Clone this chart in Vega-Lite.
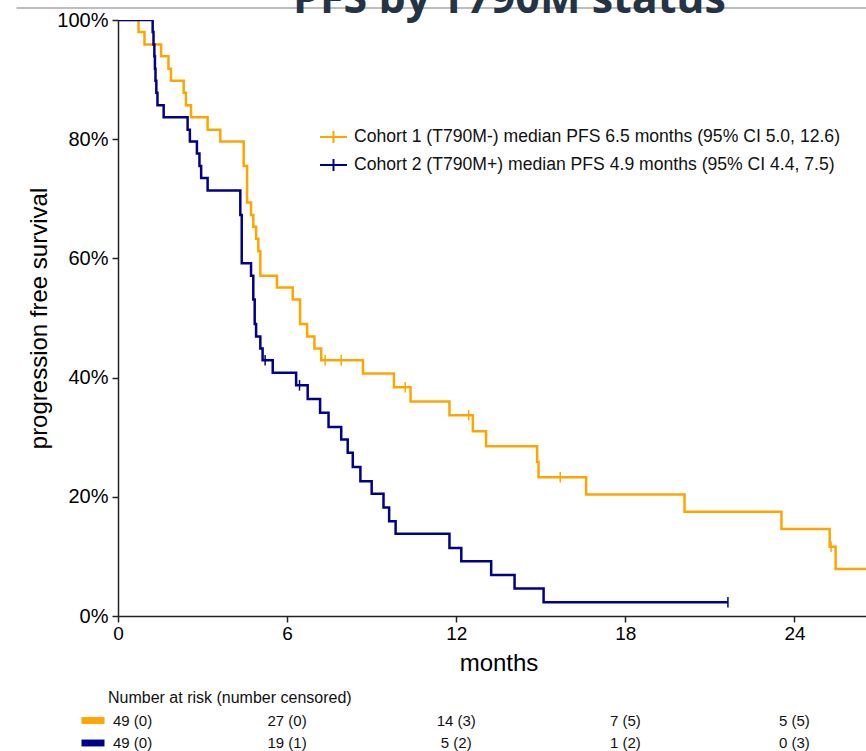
{
  "$schema": "https://vega.github.io/schema/vega-lite/v6.json",
  "background": "white",
  "padding": {"left": 15, "top": -21, "right": 0, "bottom": 0},
  "bounds": "flush",
  "spacing": 82,
  "title": {
    "text": "PFS by T790M status",
    "anchor": "start",
    "frame": "group",
    "dx": 175,
    "font": "Open Sans",
    "fontSize": 43,
    "fontWeight": "bold",
    "color": "#243444",
    "baseline": "alphabetic",
    "offset": -49
  },
  "config": {
    "view": {"stroke": null},
    "font": "Liberation Sans",
    "axis": {
      "grid": false,
      "domainColor": "#222",
      "domainWidth": 1.5,
      "tickColor": "#222",
      "tickWidth": 1.5,
      "tickSize": 6,
      "labelColor": "#000",
      "labelFont": "Liberation Sans",
      "labelFontSize": 19,
      "titleFont": "Liberation Sans",
      "titleFontSize": 24,
      "titleFontWeight": "normal",
      "titleColor": "#000"
    }
  },
  "resolve": {
    "scale": {"x": "independent", "y": "independent", "color": "independent"},
    "legend": {"color": "independent"}
  },
  "datasets": {
    "km": [
      {"cohort": "Cohort 1 (T790M-) median PFS 6.5 months (95% CI 5.0, 12.6)", "time": 0, "surv": 1.0},
      {"cohort": "Cohort 1 (T790M-) median PFS 6.5 months (95% CI 5.0, 12.6)", "time": 0.73, "surv": 0.980},
      {"cohort": "Cohort 1 (T790M-) median PFS 6.5 months (95% CI 5.0, 12.6)", "time": 0.94, "surv": 0.959},
      {"cohort": "Cohort 1 (T790M-) median PFS 6.5 months (95% CI 5.0, 12.6)", "time": 1.53, "surv": 0.939},
      {"cohort": "Cohort 1 (T790M-) median PFS 6.5 months (95% CI 5.0, 12.6)", "time": 1.79, "surv": 0.918},
      {"cohort": "Cohort 1 (T790M-) median PFS 6.5 months (95% CI 5.0, 12.6)", "time": 1.88, "surv": 0.898},
      {"cohort": "Cohort 1 (T790M-) median PFS 6.5 months (95% CI 5.0, 12.6)", "time": 2.33, "surv": 0.878},
      {"cohort": "Cohort 1 (T790M-) median PFS 6.5 months (95% CI 5.0, 12.6)", "time": 2.41, "surv": 0.857},
      {"cohort": "Cohort 1 (T790M-) median PFS 6.5 months (95% CI 5.0, 12.6)", "time": 2.59, "surv": 0.837},
      {"cohort": "Cohort 1 (T790M-) median PFS 6.5 months (95% CI 5.0, 12.6)", "time": 3.18, "surv": 0.816},
      {"cohort": "Cohort 1 (T790M-) median PFS 6.5 months (95% CI 5.0, 12.6)", "time": 3.63, "surv": 0.796},
      {"cohort": "Cohort 1 (T790M-) median PFS 6.5 months (95% CI 5.0, 12.6)", "time": 4.46, "surv": 0.755},
      {"cohort": "Cohort 1 (T790M-) median PFS 6.5 months (95% CI 5.0, 12.6)", "time": 4.58, "surv": 0.694},
      {"cohort": "Cohort 1 (T790M-) median PFS 6.5 months (95% CI 5.0, 12.6)", "time": 4.72, "surv": 0.673},
      {"cohort": "Cohort 1 (T790M-) median PFS 6.5 months (95% CI 5.0, 12.6)", "time": 4.80, "surv": 0.653},
      {"cohort": "Cohort 1 (T790M-) median PFS 6.5 months (95% CI 5.0, 12.6)", "time": 4.90, "surv": 0.633},
      {"cohort": "Cohort 1 (T790M-) median PFS 6.5 months (95% CI 5.0, 12.6)", "time": 4.98, "surv": 0.612},
      {"cohort": "Cohort 1 (T790M-) median PFS 6.5 months (95% CI 5.0, 12.6)", "time": 5.05, "surv": 0.571},
      {"cohort": "Cohort 1 (T790M-) median PFS 6.5 months (95% CI 5.0, 12.6)", "time": 5.64, "surv": 0.551},
      {"cohort": "Cohort 1 (T790M-) median PFS 6.5 months (95% CI 5.0, 12.6)", "time": 6.20, "surv": 0.531},
      {"cohort": "Cohort 1 (T790M-) median PFS 6.5 months (95% CI 5.0, 12.6)", "time": 6.46, "surv": 0.490},
      {"cohort": "Cohort 1 (T790M-) median PFS 6.5 months (95% CI 5.0, 12.6)", "time": 6.71, "surv": 0.469},
      {"cohort": "Cohort 1 (T790M-) median PFS 6.5 months (95% CI 5.0, 12.6)", "time": 6.97, "surv": 0.449},
      {"cohort": "Cohort 1 (T790M-) median PFS 6.5 months (95% CI 5.0, 12.6)", "time": 7.21, "surv": 0.429},
      {"cohort": "Cohort 1 (T790M-) median PFS 6.5 months (95% CI 5.0, 12.6)", "time": 8.69, "surv": 0.407},
      {"cohort": "Cohort 1 (T790M-) median PFS 6.5 months (95% CI 5.0, 12.6)", "time": 9.79, "surv": 0.384},
      {"cohort": "Cohort 1 (T790M-) median PFS 6.5 months (95% CI 5.0, 12.6)", "time": 10.38, "surv": 0.360},
      {"cohort": "Cohort 1 (T790M-) median PFS 6.5 months (95% CI 5.0, 12.6)", "time": 11.76, "surv": 0.337},
      {"cohort": "Cohort 1 (T790M-) median PFS 6.5 months (95% CI 5.0, 12.6)", "time": 12.59, "surv": 0.310},
      {"cohort": "Cohort 1 (T790M-) median PFS 6.5 months (95% CI 5.0, 12.6)", "time": 13.06, "surv": 0.285},
      {"cohort": "Cohort 1 (T790M-) median PFS 6.5 months (95% CI 5.0, 12.6)", "time": 14.87, "surv": 0.259},
      {"cohort": "Cohort 1 (T790M-) median PFS 6.5 months (95% CI 5.0, 12.6)", "time": 14.92, "surv": 0.233},
      {"cohort": "Cohort 1 (T790M-) median PFS 6.5 months (95% CI 5.0, 12.6)", "time": 16.61, "surv": 0.204},
      {"cohort": "Cohort 1 (T790M-) median PFS 6.5 months (95% CI 5.0, 12.6)", "time": 20.10, "surv": 0.175},
      {"cohort": "Cohort 1 (T790M-) median PFS 6.5 months (95% CI 5.0, 12.6)", "time": 23.54, "surv": 0.146},
      {"cohort": "Cohort 1 (T790M-) median PFS 6.5 months (95% CI 5.0, 12.6)", "time": 25.25, "surv": 0.116},
      {"cohort": "Cohort 1 (T790M-) median PFS 6.5 months (95% CI 5.0, 12.6)", "time": 25.46, "surv": 0.079},
      {"cohort": "Cohort 1 (T790M-) median PFS 6.5 months (95% CI 5.0, 12.6)", "time": 27, "surv": 0.079},
      {"cohort": "Cohort 2 (T790M+) median PFS 4.9 months (95% CI 4.4, 7.5)", "time": 0, "surv": 1.0},
      {"cohort": "Cohort 2 (T790M+) median PFS 4.9 months (95% CI 4.4, 7.5)", "time": 1.23, "surv": 0.980},
      {"cohort": "Cohort 2 (T790M+) median PFS 4.9 months (95% CI 4.4, 7.5)", "time": 1.26, "surv": 0.959},
      {"cohort": "Cohort 2 (T790M+) median PFS 4.9 months (95% CI 4.4, 7.5)", "time": 1.29, "surv": 0.939},
      {"cohort": "Cohort 2 (T790M+) median PFS 4.9 months (95% CI 4.4, 7.5)", "time": 1.31, "surv": 0.918},
      {"cohort": "Cohort 2 (T790M+) median PFS 4.9 months (95% CI 4.4, 7.5)", "time": 1.33, "surv": 0.898},
      {"cohort": "Cohort 2 (T790M+) median PFS 4.9 months (95% CI 4.4, 7.5)", "time": 1.36, "surv": 0.878},
      {"cohort": "Cohort 2 (T790M+) median PFS 4.9 months (95% CI 4.4, 7.5)", "time": 1.40, "surv": 0.857},
      {"cohort": "Cohort 2 (T790M+) median PFS 4.9 months (95% CI 4.4, 7.5)", "time": 1.62, "surv": 0.837},
      {"cohort": "Cohort 2 (T790M+) median PFS 4.9 months (95% CI 4.4, 7.5)", "time": 2.47, "surv": 0.816},
      {"cohort": "Cohort 2 (T790M+) median PFS 4.9 months (95% CI 4.4, 7.5)", "time": 2.55, "surv": 0.796},
      {"cohort": "Cohort 2 (T790M+) median PFS 4.9 months (95% CI 4.4, 7.5)", "time": 2.80, "surv": 0.776},
      {"cohort": "Cohort 2 (T790M+) median PFS 4.9 months (95% CI 4.4, 7.5)", "time": 2.89, "surv": 0.755},
      {"cohort": "Cohort 2 (T790M+) median PFS 4.9 months (95% CI 4.4, 7.5)", "time": 2.95, "surv": 0.735},
      {"cohort": "Cohort 2 (T790M+) median PFS 4.9 months (95% CI 4.4, 7.5)", "time": 3.18, "surv": 0.714},
      {"cohort": "Cohort 2 (T790M+) median PFS 4.9 months (95% CI 4.4, 7.5)", "time": 4.34, "surv": 0.673},
      {"cohort": "Cohort 2 (T790M+) median PFS 4.9 months (95% CI 4.4, 7.5)", "time": 4.39, "surv": 0.592},
      {"cohort": "Cohort 2 (T790M+) median PFS 4.9 months (95% CI 4.4, 7.5)", "time": 4.72, "surv": 0.571},
      {"cohort": "Cohort 2 (T790M+) median PFS 4.9 months (95% CI 4.4, 7.5)", "time": 4.80, "surv": 0.531},
      {"cohort": "Cohort 2 (T790M+) median PFS 4.9 months (95% CI 4.4, 7.5)", "time": 4.85, "surv": 0.490},
      {"cohort": "Cohort 2 (T790M+) median PFS 4.9 months (95% CI 4.4, 7.5)", "time": 4.90, "surv": 0.469},
      {"cohort": "Cohort 2 (T790M+) median PFS 4.9 months (95% CI 4.4, 7.5)", "time": 5.05, "surv": 0.449},
      {"cohort": "Cohort 2 (T790M+) median PFS 4.9 months (95% CI 4.4, 7.5)", "time": 5.13, "surv": 0.429},
      {"cohort": "Cohort 2 (T790M+) median PFS 4.9 months (95% CI 4.4, 7.5)", "time": 5.49, "surv": 0.408},
      {"cohort": "Cohort 2 (T790M+) median PFS 4.9 months (95% CI 4.4, 7.5)", "time": 6.32, "surv": 0.387},
      {"cohort": "Cohort 2 (T790M+) median PFS 4.9 months (95% CI 4.4, 7.5)", "time": 6.73, "surv": 0.364},
      {"cohort": "Cohort 2 (T790M+) median PFS 4.9 months (95% CI 4.4, 7.5)", "time": 7.17, "surv": 0.341},
      {"cohort": "Cohort 2 (T790M+) median PFS 4.9 months (95% CI 4.4, 7.5)", "time": 7.47, "surv": 0.317},
      {"cohort": "Cohort 2 (T790M+) median PFS 4.9 months (95% CI 4.4, 7.5)", "time": 7.92, "surv": 0.296},
      {"cohort": "Cohort 2 (T790M+) median PFS 4.9 months (95% CI 4.4, 7.5)", "time": 8.15, "surv": 0.274},
      {"cohort": "Cohort 2 (T790M+) median PFS 4.9 months (95% CI 4.4, 7.5)", "time": 8.33, "surv": 0.250},
      {"cohort": "Cohort 2 (T790M+) median PFS 4.9 months (95% CI 4.4, 7.5)", "time": 8.60, "surv": 0.226},
      {"cohort": "Cohort 2 (T790M+) median PFS 4.9 months (95% CI 4.4, 7.5)", "time": 9.00, "surv": 0.205},
      {"cohort": "Cohort 2 (T790M+) median PFS 4.9 months (95% CI 4.4, 7.5)", "time": 9.42, "surv": 0.182},
      {"cohort": "Cohort 2 (T790M+) median PFS 4.9 months (95% CI 4.4, 7.5)", "time": 9.62, "surv": 0.159},
      {"cohort": "Cohort 2 (T790M+) median PFS 4.9 months (95% CI 4.4, 7.5)", "time": 9.85, "surv": 0.138},
      {"cohort": "Cohort 2 (T790M+) median PFS 4.9 months (95% CI 4.4, 7.5)", "time": 11.76, "surv": 0.114},
      {"cohort": "Cohort 2 (T790M+) median PFS 4.9 months (95% CI 4.4, 7.5)", "time": 12.18, "surv": 0.092},
      {"cohort": "Cohort 2 (T790M+) median PFS 4.9 months (95% CI 4.4, 7.5)", "time": 13.24, "surv": 0.069},
      {"cohort": "Cohort 2 (T790M+) median PFS 4.9 months (95% CI 4.4, 7.5)", "time": 14.07, "surv": 0.046},
      {"cohort": "Cohort 2 (T790M+) median PFS 4.9 months (95% CI 4.4, 7.5)", "time": 15.10, "surv": 0.023},
      {"cohort": "Cohort 2 (T790M+) median PFS 4.9 months (95% CI 4.4, 7.5)", "time": 21.64, "surv": 0.023}
    ],
    "censor": [
      {"cohort": "Cohort 1 (T790M-) median PFS 6.5 months (95% CI 5.0, 12.6)", "time": 7.35, "surv": 0.429},
      {"cohort": "Cohort 1 (T790M-) median PFS 6.5 months (95% CI 5.0, 12.6)", "time": 7.92, "surv": 0.429},
      {"cohort": "Cohort 1 (T790M-) median PFS 6.5 months (95% CI 5.0, 12.6)", "time": 10.19, "surv": 0.384},
      {"cohort": "Cohort 1 (T790M-) median PFS 6.5 months (95% CI 5.0, 12.6)", "time": 12.44, "surv": 0.337},
      {"cohort": "Cohort 1 (T790M-) median PFS 6.5 months (95% CI 5.0, 12.6)", "time": 15.69, "surv": 0.233},
      {"cohort": "Cohort 1 (T790M-) median PFS 6.5 months (95% CI 5.0, 12.6)", "time": 25.30, "surv": 0.116},
      {"cohort": "Cohort 2 (T790M+) median PFS 4.9 months (95% CI 4.4, 7.5)", "time": 5.22, "surv": 0.429},
      {"cohort": "Cohort 2 (T790M+) median PFS 4.9 months (95% CI 4.4, 7.5)", "time": 6.44, "surv": 0.387},
      {"cohort": "Cohort 2 (T790M+) median PFS 4.9 months (95% CI 4.4, 7.5)", "time": 21.64, "surv": 0.023}
    ],
    "risk": [
      {"cohort": "Cohort 1 (T790M-) median PFS 6.5 months (95% CI 5.0, 12.6)", "time": 0, "label": "49 (0)"},
      {"cohort": "Cohort 1 (T790M-) median PFS 6.5 months (95% CI 5.0, 12.6)", "time": 6, "label": "27 (0)"},
      {"cohort": "Cohort 1 (T790M-) median PFS 6.5 months (95% CI 5.0, 12.6)", "time": 12, "label": "14 (3)"},
      {"cohort": "Cohort 1 (T790M-) median PFS 6.5 months (95% CI 5.0, 12.6)", "time": 18, "label": "7 (5)"},
      {"cohort": "Cohort 1 (T790M-) median PFS 6.5 months (95% CI 5.0, 12.6)", "time": 24, "label": "5 (5)"},
      {"cohort": "Cohort 2 (T790M+) median PFS 4.9 months (95% CI 4.4, 7.5)", "time": 0, "label": "49 (0)"},
      {"cohort": "Cohort 2 (T790M+) median PFS 4.9 months (95% CI 4.4, 7.5)", "time": 6, "label": "19 (1)"},
      {"cohort": "Cohort 2 (T790M+) median PFS 4.9 months (95% CI 4.4, 7.5)", "time": 12, "label": "5 (2)"},
      {"cohort": "Cohort 2 (T790M+) median PFS 4.9 months (95% CI 4.4, 7.5)", "time": 18, "label": "1 (2)"},
      {"cohort": "Cohort 2 (T790M+) median PFS 4.9 months (95% CI 4.4, 7.5)", "time": 24, "label": "0 (3)"}
    ]
  },
  "vconcat": [
    {
      "width": 761,
      "height": 596,
      "layer": [
        {
          "data": {"values": [{}]},
          "mark": {"type": "rule", "stroke": "#a8a8a8", "strokeWidth": 1.5, "clip": false},
          "encoding": {
            "x": {"datum": -3.6, "type": "quantitative", "scale": {"domain": [0, 27], "nice": false, "zero": false}},
            "x2": {"datum": 27},
            "y": {"datum": 1.02, "type": "quantitative", "scale": {"domain": [0, 1], "nice": false}},
            "y2": {"datum": 1.02}
          }
        },
        {
          "data": {"name": "km"},
          "mark": {"type": "line", "interpolate": "step-after", "strokeWidth": 2.5, "clip": true},
          "encoding": {
            "x": {
              "field": "time", "type": "quantitative",
              "scale": {"domain": [0, 27], "nice": false, "zero": false},
              "axis": {"title": "months", "values": [0, 6, 12, 18, 24], "labelPadding": 2, "titlePadding": 8, "labelFlush": false}
            },
            "y": {
              "field": "surv", "type": "quantitative",
              "scale": {"domain": [0, 1], "nice": false},
              "axis": {"title": "progression free survival", "values": [0, 0.2, 0.4, 0.6, 0.8, 1], "format": ".0%", "labelPadding": 4, "labelFontSize": 20, "titlePadding": 5}
            },
            "color": {
              "field": "cohort", "type": "nominal",
              "scale": {
                "domain": ["Cohort 1 (T790M-) median PFS 6.5 months (95% CI 5.0, 12.6)", "Cohort 2 (T790M+) median PFS 4.9 months (95% CI 4.4, 7.5)"],
                "range": ["#FFA500", "#00008B"]
              },
              "legend": {
                "title": null,
                "orient": "none",
                "legendX": 201,
                "legendY": 102.5,
                "symbolType": "M-1,0H1M0,-0.45V0.45",
                "symbolSize": 729,
                "symbolStrokeWidth": 2,
                "symbolFillColor": "transparent",
                "rowPadding": 3,
                "labelOffset": 6,
                "labelLimit": 1000,
                "labelFont": "Liberation Sans",
                "labelFontSize": 17.6,
                "labelColor": "#111"
              }
            }
          }
        },
        {
          "data": {"name": "censor"},
          "mark": {"type": "point", "shape": "M0,-1V1", "filled": false, "size": 110, "strokeWidth": 1.5, "opacity": 1},
          "encoding": {
            "x": {"field": "time", "type": "quantitative"},
            "y": {"field": "surv", "type": "quantitative"},
            "color": {"field": "cohort", "type": "nominal", "legend": null}
          }
        }
      ]
    },
    {
      "width": 761,
      "height": 45,
      "layer": [
        {
          "data": {"values": [{}]},
          "mark": {"type": "text", "text": "Number at risk (number censored)", "align": "left", "baseline": "middle", "dx": -10, "fontSize": 16, "color": "#111"},
          "encoding": {
            "x": {"datum": 0, "type": "quantitative", "scale": {"domain": [0, 27], "nice": false, "zero": false}, "axis": null},
            "y": {"datum": "header", "type": "nominal", "scale": {"type": "point", "padding": 0, "domain": ["header", "Cohort 1 (T790M-) median PFS 6.5 months (95% CI 5.0, 12.6)", "Cohort 2 (T790M+) median PFS 4.9 months (95% CI 4.4, 7.5)"]}, "axis": null}
          }
        },
        {
          "data": {"name": "risk"},
          "transform": [{"filter": "datum.time == 0"}],
          "mark": {"type": "point", "shape": "M-1,-0.3H1V0.3H-1Z", "filled": true, "size": 529, "xOffset": -25, "opacity": 1},
          "encoding": {
            "x": {"field": "time", "type": "quantitative"},
            "y": {"field": "cohort", "type": "nominal"},
            "color": {
              "field": "cohort", "type": "nominal",
              "scale": {
                "domain": ["Cohort 1 (T790M-) median PFS 6.5 months (95% CI 5.0, 12.6)", "Cohort 2 (T790M+) median PFS 4.9 months (95% CI 4.4, 7.5)"],
                "range": ["#FFA500", "#00008B"]
              },
              "legend": null
            }
          }
        },
        {
          "data": {"name": "risk"},
          "transform": [{"filter": "datum.time == 0"}],
          "mark": {"type": "text", "align": "left", "baseline": "middle", "dx": -5, "fontSize": 15, "color": "#111"},
          "encoding": {
            "x": {"field": "time", "type": "quantitative"},
            "y": {"field": "cohort", "type": "nominal"},
            "text": {"field": "label"}
          }
        },
        {
          "data": {"name": "risk"},
          "transform": [{"filter": "datum.time > 0"}],
          "mark": {"type": "text", "align": "center", "baseline": "middle", "fontSize": 15, "color": "#111"},
          "encoding": {
            "x": {"field": "time", "type": "quantitative"},
            "y": {"field": "cohort", "type": "nominal"},
            "text": {"field": "label"}
          }
        }
      ]
    }
  ]
}
